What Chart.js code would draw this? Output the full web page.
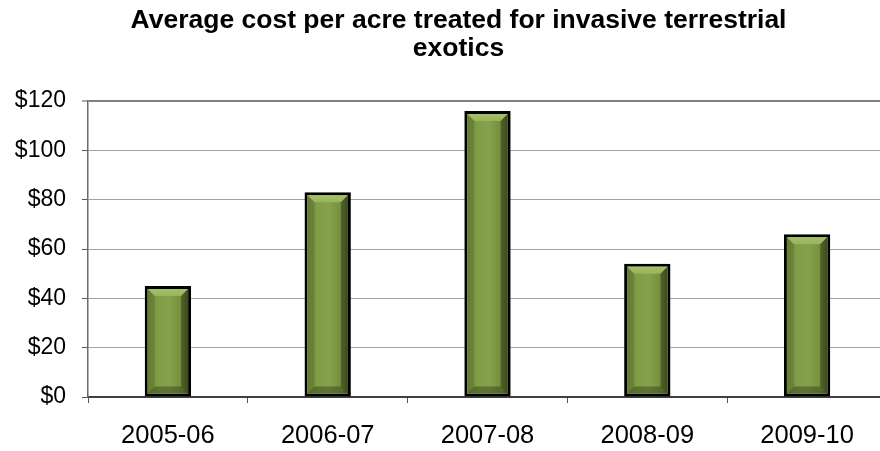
<!DOCTYPE html>
<html>
<head>
<meta charset="utf-8">
<title>Average cost per acre treated for invasive terrestrial exotics</title>
<script src="https://cdn.jsdelivr.net/npm/chart.js@4.4.1/dist/chart.umd.min.js"></script>
<style>
  html, body { margin: 0; padding: 0; background: #ffffff; overflow: hidden; }
  #wrap { width: 880px; height: 451px; overflow: hidden; }
  canvas { display: block; }
</style>
</head>
<body>
<div id="wrap"><canvas id="chart" width="917" height="451"></canvas></div>
<script>
// Fiscal years and average treatment cost (dollars per acre)
const seasons = ['2005-06', '2006-07', '2007-08', '2008-09', '2009-10'];
const costPerAcre = [45, 83, 116, 54, 66];
const yTicks = [0, 20, 40, 60, 80, 100, 120];

const FONT = "'Liberation Sans', Arial, sans-serif";

// Paints a bevelled green face inside each bar's black outline
const bevelPlugin = {
  id: 'bevel',
  afterDatasetsDraw(chart) {
    const ctx = chart.ctx;
    const meta = chart.getDatasetMeta(0);
    const bw = 3;
    meta.data.forEach((bar) => {
      const p = bar.getProps(['x', 'y', 'base', 'width'], true);
      const l = p.x - p.width / 2 + bw;
      const r = p.x + p.width / 2 - bw;
      const t = Math.min(p.y, p.base) + bw;
      const b = Math.max(p.y, p.base) - bw;
      const w = r - l;
      const h = b - t;
      if (w <= 0 || h <= 0) return;
      const bev = Math.min(7, w / 3, h / 3);
      ctx.save();
      // body: lit centre, shaded sides
      const g = ctx.createLinearGradient(l, 0, r, 0);
      g.addColorStop(0, '#718a3a');
      g.addColorStop(0.25, '#819d47');
      g.addColorStop(0.55, '#85a14b');
      g.addColorStop(0.85, '#738d3c');
      g.addColorStop(1, '#4f6328');
      ctx.fillStyle = g;
      ctx.fillRect(l, t, w, h);
      // top facet
      ctx.beginPath();
      ctx.moveTo(l, t); ctx.lineTo(r, t); ctx.lineTo(r - bev, t + bev); ctx.lineTo(l + bev, t + bev); ctx.closePath();
      const gt = ctx.createLinearGradient(0, t, 0, t + bev);
      gt.addColorStop(0, '#a6c16a');
      gt.addColorStop(1, '#97b35a');
      ctx.fillStyle = gt;
      ctx.fill();
      // left facet
      ctx.beginPath();
      ctx.moveTo(l, t); ctx.lineTo(l + bev, t + bev); ctx.lineTo(l + bev, b - bev); ctx.lineTo(l, b); ctx.closePath();
      ctx.fillStyle = 'rgba(70, 90, 35, 0.3)';
      ctx.fill();
      // right facet
      ctx.beginPath();
      ctx.moveTo(r, t); ctx.lineTo(r - bev, t + bev); ctx.lineTo(r - bev, b - bev); ctx.lineTo(r, b); ctx.closePath();
      ctx.fillStyle = 'rgba(40, 52, 18, 0.5)';
      ctx.fill();
      // bottom facet
      ctx.beginPath();
      ctx.moveTo(l, b); ctx.lineTo(r, b); ctx.lineTo(r - bev, b - bev); ctx.lineTo(l + bev, b - bev); ctx.closePath();
      ctx.fillStyle = 'rgba(45, 60, 20, 0.45)';
      ctx.fill();
      ctx.restore();
    });
  }
};

new Chart(document.getElementById('chart'), {
  type: 'bar',
  data: {
    labels: seasons,
    datasets: [{
      data: costPerAcre,
      backgroundColor: '#7f9a46',
      borderColor: '#000000',
      borderWidth: 3,
      borderSkipped: false,
      barPercentage: 0.29,
      categoryPercentage: 1.0
    }]
  },
  options: {
    responsive: false,
    animation: false,
    devicePixelRatio: 1,
    layout: { padding: 0 },
    plugins: {
      legend: { display: false },
      tooltip: { enabled: false },
      title: {
        display: true,
        text: ['Average cost per acre treated for invasive terrestrial', 'exotics'],
        color: '#000000',
        font: { family: FONT, size: 26.5, weight: 'bold', lineHeight: 1.04 },
        padding: { top: 7, bottom: 39 }
      }
    },
    scales: {
      x: {
        offset: true,
        grid: {
          offset: true,
          display: true,
          drawOnChartArea: false,
          drawTicks: true,
          tickLength: 6,
          tickColor: '#555555',
          tickWidth: 1
        },
        border: { display: true, color: '#404040', width: 2 },
        ticks: {
          color: '#000000',
          font: { family: FONT, size: 25.5, lineHeight: 1.2 },
          padding: 18,
          maxRotation: 0
        },
        afterFit(scale) { scale.height = 54; }
      },
      y: {
        min: 0,
        max: 120,
        afterBuildTicks(scale) { scale.ticks = yTicks.map(v => ({ value: v })); },
        grid: {
          color: (c) => (c.tick && c.tick.value === 120 ? '#808080' : '#a3a3a3'),
          lineWidth: (c) => (c.tick && c.tick.value === 120 ? 2 : 1),
          drawTicks: true,
          tickLength: 6,
          tickColor: '#555555',
          tickWidth: 1
        },
        border: { display: true, color: '#6a6a6a', width: 1.5 },
        ticks: {
          color: '#000000',
          font: { family: FONT, size: 23 },
          padding: 16,
          callback: (v) => '$' + v
        },
        afterFit(scale) { scale.width = 88; }
      },
      // empty right-hand margin strip (no ticks, no lines)
      yMargin: {
        type: 'linear',
        position: 'right',
        min: 0,
        max: 120,
        grid: { display: false, drawTicks: false },
        border: { display: false },
        ticks: { display: false },
        afterFit(scale) { scale.width = 30; }
      }
    }
  },
  plugins: [bevelPlugin]
});
</script>
</body>
</html>
